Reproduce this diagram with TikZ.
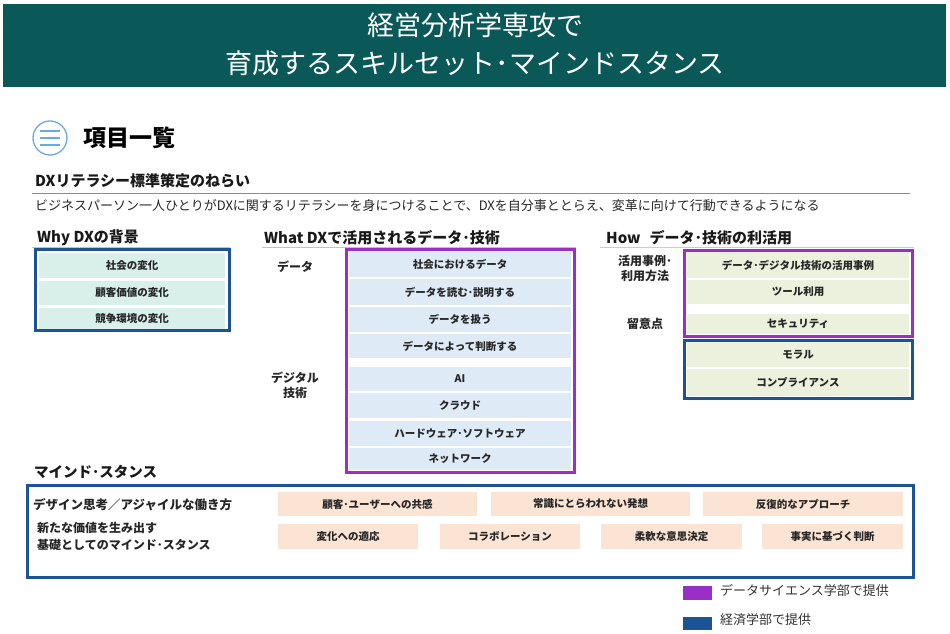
\documentclass[tikz,border=0pt]{standalone}
\usepackage{fontspec}
\setmainfont{Noto Sans CJK JP}
\definecolor{teal}{HTML}{0B5858}
\definecolor{dxpurple}{HTML}{9A2FC8}
\definecolor{dxblue}{HTML}{1C5296}
\definecolor{whyfill}{HTML}{D8EFEA}
\definecolor{whatfill}{HTML}{DEEAF6}
\definecolor{howfill}{HTML}{EBF1DD}
\definecolor{peach}{HTML}{FCE4D5}
\definecolor{iconblue}{HTML}{6FA8DC}
\definecolor{howline}{HTML}{C9D6A3}
\definecolor{blueline}{HTML}{A9C8E6}
\newcommand{\fsz}[1]{\fontsize{#1}{#1}\selectfont}
\newcommand{\fszb}[2]{\fontsize{#1}{#2}\selectfont}
\tikzset{
  cellbox/.style={inner sep=0pt, font=\bfseries\fsz{10.5}, text=black!85},
  whycell/.style={cellbox, fill=whyfill, minimum width=186pt},
  whatcell/.style={cellbox, fill=whatfill, minimum width=222pt},
  howcell/.style={cellbox, fill=howfill, minimum width=222pt},
  peachcell/.style={cellbox, fill=peach, minimum height=24pt},
  sidelabel/.style={inner sep=0pt, font=\bfseries\fsz{12}, align=center, text=black!85},
  sechead/.style={inner sep=0pt, anchor=west, font=\bfseries\fsz{15}, text=black!90},
  purpleframe/.style={draw=dxpurple, line width=3pt},
  blueframe/.style={draw=dxblue, line width=3pt},
}
\begin{document}
\begin{tikzpicture}[x=1pt,y=-1pt]
\useasboundingbox (0,0) rectangle (950,634);
% header
\fill[teal] (3,4) rectangle (946,87);
\node[inner sep=0pt, text=white, font=\fsz{27}] (t1) at (475,25) {経営分析学専攻で};
\node[inner sep=0pt, text=white, font=\fsz{27}] (t2) at (475,63) {育成するスキルセット･マインドスタンス};
% icon and title
\draw[iconblue, line width=1.3pt] (50,138) circle (17);
\foreach \yy in {131,138,145} \draw[iconblue, line width=1.3pt] (40,\yy) -- (60,\yy);
\node[inner sep=0pt, anchor=west, font=\bfseries\fsz{23}] (items) at (83,138) {項目一覧};
\node[sechead] (aim) at (35,181) {DXリテラシー標準策定のねらい};
\draw[black!45, line width=0.8pt] (32,193) -- (910,193);
\node[inner sep=0pt, anchor=west, font=\fsz{13}, text=black!85] (aimtext) at (35,206) {ビジネスパーソン一人ひとりがDXに関するリテラシーを身につけることで、DXを自分事ととらえ、変革に向けて行動できるようになる};
% section headers
\node[sechead] (why) at (37,238) {Why DXの背景};
\draw[blueline, line width=1pt] (32,247) -- (230,247);
\node[sechead] (what) at (264,238) {What DXで活用されるデータ･技術};
\draw[blueline, line width=1pt] (262,247) -- (576,247);
\node[sechead] (how) at (606,238) {How\hspace{0.6em}データ･技術の利活用};
\draw[howline, line width=1pt] (600,247) -- (914,247);
% Why
\node[whycell, minimum height=25pt] (w1) at (132,265.5) {社会の変化};
\node[whycell, minimum height=24pt] (w2) at (132,293) {顧客価値の変化};
\node[whycell, minimum height=21pt] (w3) at (132,318.5) {競争環境の変化};
\draw[blueframe] (35,249) rectangle (229,330);
% What
\node[whatcell, minimum height=25pt] (a1) at (460,264.5) {社会におけるデータ};
\node[whatcell, minimum height=26pt] (a2) at (460,292) {データを読む･説明する};
\node[whatcell, minimum height=25pt] (a3) at (460,319.5) {データを扱う};
\node[whatcell, minimum height=24pt] (a4) at (460,346) {データによって判断する};
\node[whatcell, minimum height=24pt] (a5) at (460,379) {AI};
\node[whatcell, minimum height=25pt] (a6) at (460,405.5) {クラウド};
\node[whatcell, minimum height=25pt] (a7) at (460,433.5) {ハードウェア･ソフトウェア};
\node[whatcell, minimum height=22pt] (a8) at (460,459) {ネットワーク};
\draw[purpleframe] (346,249) rectangle (574,472);
\node[sidelabel] (ldata) at (295,267) {データ};
\node[sidelabel, font=\bfseries\fszb{12}{15}] (ldig) at (295,385) {デジタル\\技術};
% How
\node[howcell, minimum height=26pt] (h1) at (798,265) {データ･デジタル技術の活用事例};
\node[howcell, minimum height=24pt] (h2) at (798,292) {ツール利用};
\node[howcell, minimum height=20pt] (h3) at (798,324) {セキュリティ};
\draw[purpleframe] (684,250) rectangle (912,336);
\node[howcell, minimum height=25pt] (h4) at (798,354.5) {モラル};
\node[howcell, minimum height=27pt] (h5) at (798,382.5) {コンプライアンス};
\draw[blueframe] (684,340) rectangle (912,398);
\node[sidelabel, font=\bfseries\fszb{12}{15}] (lcase) at (645,268) {活用事例･\\利用方法};
\node[sidelabel] (lnote) at (645,324) {留意点};
% Mind stance
\node[sechead, font=\bfseries\fsz{14.5}] (mind) at (34,472) {マインド･スタンス};
\draw[blueframe] (27,485) rectangle (913,577);
\node[inner sep=0pt, anchor=west, font=\bfseries\fsz{12.5}, text=black!85] (m1) at (33,505) {デザイン思考／アジャイルな働き方};
\node[inner sep=0pt, anchor=west, font=\bfseries\fsz{12}, text=black!85] (m2) at (37,528) {新たな価値を生み出す};
\node[inner sep=0pt, anchor=west, font=\bfseries\fsz{12}, text=black!85] (m3) at (37,545) {基礎としてのマインド･スタンス};
\node[peachcell, minimum width=199pt] (p1) at (377.5,504) {顧客･ユーザーへの共感};
\node[peachcell, minimum width=199pt] (p2) at (590.5,504) {常識にとらわれない発想};
\node[peachcell, minimum width=200pt] (p3) at (803,504) {反復的なアプローチ};
\node[peachcell, minimum width=140pt, minimum height=25pt] (q1) at (348,536.5) {変化への適応};
\node[peachcell, minimum width=140pt, minimum height=25pt] (q2) at (510,536.5) {コラボレーション};
\node[peachcell, minimum width=141pt, minimum height=25pt] (q3) at (671.5,536.5) {柔軟な意思決定};
\node[peachcell, minimum width=141pt, minimum height=25pt] (q4) at (832.5,536.5) {事実に基づく判断};
% legend
\fill[dxpurple] (683,586) rectangle (712,600);
\node[inner sep=0pt, anchor=west, font=\fsz{13}, text=black!80] (lg1) at (720,590) {データサイエンス学部で提供};
\fill[dxblue] (683,617) rectangle (712,630);
\node[inner sep=0pt, anchor=west, font=\fsz{13}, text=black!80] (lg2) at (720,620) {経済学部で提供};
\end{tikzpicture}
\end{document}
